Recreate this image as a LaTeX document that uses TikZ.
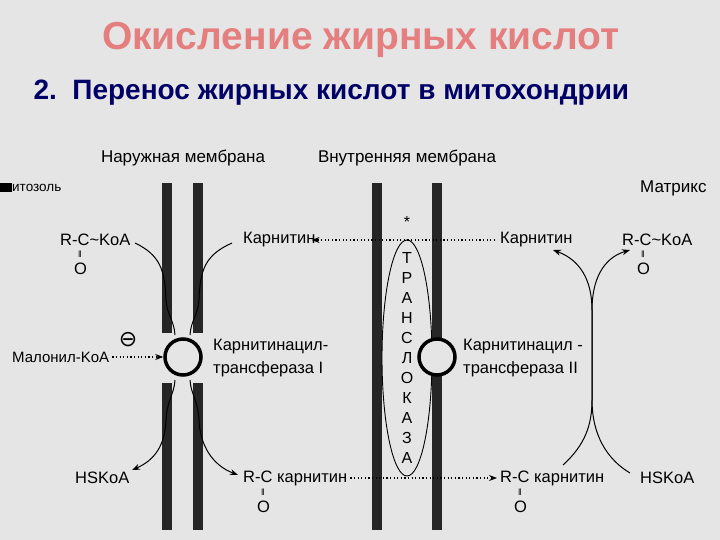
\documentclass[tikz,border=0pt]{standalone}
\usepackage{fontspec}
\setmainfont{Liberation Sans}
\newfontfamily\symfont{DejaVu Sans}
\usetikzlibrary{arrows.meta,shapes.geometric}
\begin{document}
\begin{tikzpicture}[x=1pt,y=-1pt,
  lab/.style={font=\fontsize{16.5}{18}\selectfont, inner sep=0pt, anchor=west},
  eqs/.style={lab, font=\fontsize{9}{9}\selectfont},
  bar/.style={fill=black!85, draw=none},
  flow/.style={line width=1pt},
  arr/.style={flow, -{Stealth[length=8pt,width=6pt]}},
  dot/.style={line width=1.1pt, dash pattern=on 1.2pt off 2.4pt, -{Stealth[length=8pt,width=6pt]}}]
\fill[black!10] (0,0) rectangle (720,540);
\useasboundingbox (0,0) rectangle (720,540);
\node[font=\bfseries\fontsize{39}{42}\selectfont, text=red!45!white!90!black] (title) at (361,40) {Окисление жирных кислот};
\node[font=\bfseries\fontsize{28}{30}\selectfont, text=blue!40!black, anchor=west] (sub) at (30,93) {2.\ \ Перенос жирных кислот в митохондрии};
% membranes
\foreach \a/\b in {162/172,193/203}{
  \fill[bar] (\a,183) rectangle (\b,333);
  \fill[bar] (\a,383) rectangle (\b,530);}
\fill[bar] (372,183) rectangle (382,530);
\fill[bar] (432,183) rectangle (442,530);
\node[circle, draw=black, line width=3.5pt, fill=black!10, minimum size=36pt, inner sep=0pt] (c1) at (183,357) {};
\node[draw=black, line width=0.9pt, ellipse, minimum width=50pt, minimum height=236pt, inner sep=0pt] (tr) at (407,358) {};
\node[circle, draw=black, line width=3.5pt, fill=black!10, minimum size=36pt, inner sep=0pt] (c2) at (437,357) {};
\foreach \l [count=\i] in {Т,Р,А,Н,С,Л,О,К,А,З,А}
  \node[font=\fontsize{16}{16}\selectfont, inner sep=0pt] (t\i) at (407,{238+\i*20}) {\l};
\node[font=\fontsize{16}{16}\selectfont] (ast) at (407,222) {*};
% headers
\node[font=\fontsize{17}{18}\selectfont] (om) at (183,158) {Наружная мембрана};
\node[font=\fontsize{17}{18}\selectfont] (im) at (407,158) {Внутренняя мембрана};
\fill[black] (0,183) rectangle (12,192);
\node[lab, font=\fontsize{13.5}{14}\selectfont] (cyt) at (12,188) {итозоль};
\node[lab, font=\fontsize{17}{18}\selectfont] (mat) at (640,188) {Матрикс};
% left texts
\node[lab] (rck1) at (60,240) {R-C\textasciitilde KoA};
\node[eqs] (eq1) at (78,254) {‖};
\node[lab] (o1) at (74,269) {O};
\node[lab] (car1) at (243,240) {Карнитин};
\node[lab, font=\fontsize{15}{16}\selectfont] (mal) at (12,357) {Малонил-KoA};
\node[font=\symfont\fontsize{22}{22}\selectfont] (inh) at (128,340) {⊖};
\node[lab] (cat1a) at (213,347) {Карнитинацил-};
\node[lab] (cat1b) at (213,369) {трансфераза I};
\node[lab] (hs1) at (75,478) {HSKoA};
\node[lab] (rcc1) at (243,478) {R-C карнитин};
\node[eqs] (eq2) at (261,492) {‖};
\node[lab] (o2) at (257,507) {O};
% right texts
\node[lab] (car2) at (500,240) {Карнитин};
\node[lab] (rck2) at (622,240) {R-C\textasciitilde KoA};
\node[eqs] (eq3) at (641,254) {‖};
\node[lab] (o3) at (637,269) {O};
\node[lab] (cat2a) at (463,347) {Карнитинацил -};
\node[lab] (cat2b) at (463,369) {трансфераза II};
\node[lab] (rcc2) at (500,478) {R-C карнитин};
\node[eqs] (eq4) at (518,492) {‖};
\node[lab] (o4) at (514,507) {O};
\node[lab] (hs2) at (640,478) {HSKoA};
% dotted arrows
\draw[dot] ([xshift=-5pt]car2.west) -- ([xshift=-4pt]car1.east);
\draw[dot] ([xshift=3pt]rcc1.east) -- ([xshift=-3pt]rcc2.west);
\draw[dot] ([xshift=3pt]mal.east) -- (c1.west);
% left curves
\draw[flow] (135,243) .. controls (160,255) and (165,270) .. (166,300) .. controls (167,315) and (174,320) .. (175,335);
\draw[flow] (232,243) .. controls (205,255) and (200,270) .. (199,300) .. controls (198,315) and (191,320) .. (190,335);
\draw[arr] (175,380) .. controls (174,395) and (167,400) .. (166,420) .. controls (165,445) and (155,460) .. (132,470);
\draw[arr] (190,380) .. controls (191,395) and (198,400) .. (199,420) .. controls (200,445) and (212,465) .. (238,475);
% right X curves
\draw[arr] (563,465) .. controls (585,445) and (592,425) .. (592,400) -- (592,310) .. controls (592,280) and (580,260) .. (553,250);
\draw[arr] (630,473) .. controls (600,455) and (592,425) .. (592,400) -- (592,310) .. controls (592,280) and (603,258) .. (630,250);
\end{tikzpicture}
\end{document}
